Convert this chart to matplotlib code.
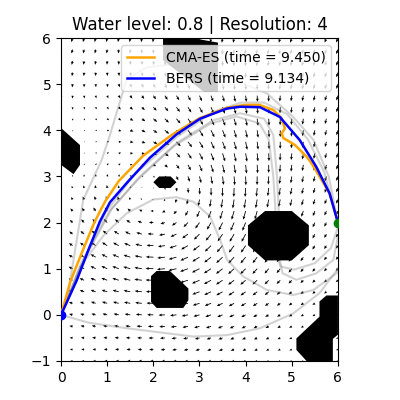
import numpy as np
import matplotlib
matplotlib.use("Agg")
import matplotlib.pyplot as plt
from matplotlib.patches import Polygon

# ---------------- data ----------------
title = "Water level: 0.8 | Resolution: 4"
x_ticks = [0, 1, 2, 3, 4, 5, 6]
y_ticks = [-1, 0, 1, 2, 3, 4, 5, 6]

start_pt = [0.0, 0.0]
goal_pt = [6.0, 2.0]

cma_label = "CMA-ES (time = 9.450)"
cma_x = [0.0, 0.2, 0.48, 0.72, 0.95, 1.25, 1.78, 2.43, 3.0, 3.6, 4.0, 4.3, 4.6, 4.78, 4.85, 4.78, 4.82, 5.07, 5.32, 5.43, 5.6, 5.82, 6.0]
cma_y = [0.0, 0.72, 1.42, 2.0, 2.45, 2.9, 3.45, 3.92, 4.26, 4.49, 4.55, 4.55, 4.44, 4.26, 4.04, 3.93, 3.83, 3.68, 3.43, 3.28, 3.0, 2.63, 2.0]

bers_label = "BERS (time = 9.134)"
bers_x = [0.0, 0.34, 0.59, 0.84, 1.06, 1.46, 1.93, 2.5, 3.01, 3.59, 3.88, 4.31, 4.74, 5.17, 5.53, 5.82, 6.0]
bers_y = [0.0, 0.75, 1.4, 2.02, 2.44, 2.9, 3.41, 3.91, 4.25, 4.47, 4.51, 4.5, 4.29, 3.79, 3.21, 2.63, 2.0]

# explored (gray) trajectories
gray_paths = [
    # outer arc
    ([0.0, 0.13, 0.48, 0.88, 1.06, 1.42, 1.85, 2.29, 3.01, 3.59, 4.46, 5.03, 5.47, 5.8, 6.0],
     [0.0, 0.32, 2.49, 3.36, 3.9, 5.1, 5.36, 5.42, 5.36, 5.16, 4.8, 4.29, 3.79, 3.0, 2.0]),
    # hugging the optimum on the outside
    ([0.0, 0.45, 0.95, 1.6, 2.5, 3.3, 3.9, 4.4, 4.9, 5.35, 5.7, 6.0],
     [0.0, 1.1, 2.2, 3.05, 3.85, 4.4, 4.6, 4.6, 4.35, 3.8, 3.1, 2.0]),
    # near optimum, dropping through the big obstacle
    ([0.0, 0.5, 1.1, 1.71, 2.5, 3.3, 3.88, 4.4, 4.6, 4.68, 4.72, 4.74, 4.8, 5.1, 5.53, 5.9, 6.0],
     [0.0, 1.2, 2.3, 3.0, 3.72, 4.22, 4.37, 4.25, 3.9, 3.0, 2.2, 1.2, 0.9, 0.76, 0.9, 1.19, 1.7]),
    ([0.0, 0.45, 1.05, 1.68, 2.45, 3.25, 3.8, 4.3, 4.5, 4.6, 4.65, 4.68, 4.75, 5.05, 5.5, 5.85, 6.0],
     [0.0, 1.15, 2.25, 2.95, 3.66, 4.15, 4.3, 4.15, 3.8, 3.0, 2.2, 1.3, 1.05, 0.98, 1.12, 1.45, 1.9]),
    # through the vortex
    ([0.0, 0.41, 0.92, 1.42, 2.0, 2.5, 2.87, 3.23, 3.45, 3.6, 3.95, 4.46, 5.03, 5.47, 5.97, 6.0],
     [0.0, 1.04, 1.72, 2.2, 2.5, 2.55, 2.45, 2.13, 1.62, 1.19, 0.83, 0.54, 0.43, 0.54, 0.9, 1.0]),
    # along the bottom
    ([0.0, 0.6, 1.42, 2.87, 3.59, 4.31, 5.03, 5.6, 6.0],
     [0.0, -0.17, -0.29, -0.47, -0.44, -0.29, 0.03, 0.47, 1.0]),
]

# obstacles (land above water level), vertices
obstacles = [
    [(2.21, 6.0), (2.84, 6.0), (3.4, 5.9), (3.4, 4.83), (3.1, 4.83), (2.21, 5.52)],
    [(0.0, 4.05), (0.41, 3.68), (0.41, 3.25), (0.27, 3.05), (0.0, 3.25)],
    [(2.0, 2.875), (2.125, 3.0), (2.375, 3.0), (2.5, 2.875), (2.375, 2.75), (2.125, 2.75)],
    [(4.42, 2.25), (5.0, 2.25), (5.37, 1.94), (5.37, 1.51), (5.0, 1.18), (4.42, 1.18), (4.05, 1.51), (4.05, 1.94)],
    [(2.07, 0.95), (2.36, 0.95), (2.76, 0.57), (2.76, 0.32), (2.65, 0.15), (2.07, 0.15), (1.95, 0.28), (1.95, 0.84)],
    [(5.75, 0.42), (6.0, 0.42), (6.0, -0.43), (5.89, -0.52), (5.89, -1.0), (5.32, -1.0), (5.1, -0.76), (5.1, -0.51), (5.6, -0.04), (5.6, 0.29)],
]

# current field parameters (estimated from the arrow pattern)
grid_step = 0.25
vortex_center = [2.4, 2.4]
vortex_gain = 0.22
vortex_radius = 1.5
drift_u = -0.06
drift_v = -0.12
arrow_scale = 1.5

# ---------------- figure ----------------
fig = plt.figure(figsize=(4, 4), dpi=100)
ax = fig.add_axes([0.1525, 0.0975, 0.6925, 0.8075])

gx = np.arange(0, 6 + 1e-9, grid_step)
gy = np.arange(-1, 6 + 1e-9, grid_step)
X, Y = np.meshgrid(gx, gy)
dx = X - vortex_center[0]
dy = Y - vortex_center[1]
env = np.exp(-(dx ** 2 + dy ** 2) / (2 * vortex_radius ** 2))
vscale = np.clip((Y + 0.5) / 4.0, 0.15, 1.2)
U = vortex_gain * dy * env + drift_u
V = -vortex_gain * dx * env + drift_v * vscale
ax.quiver(X, Y, U, V, angles='xy', scale_units='xy', scale=arrow_scale,
          width=0.003, headwidth=3.5, headlength=4, headaxislength=3.5,
          color='black', zorder=1)

for px, py in gray_paths:
    ax.plot(px, py, color='gray', alpha=0.35, lw=1.5, zorder=2)

for verts in obstacles:
    ax.add_patch(Polygon(verts, closed=True, facecolor='black', edgecolor='none', zorder=3))

ax.plot(cma_x, cma_y, color='orange', lw=1.8, label=cma_label, zorder=4)
ax.plot(bers_x, bers_y, color='blue', lw=1.8, label=bers_label, zorder=5)
ax.plot(start_pt[0], start_pt[1], 'o', color='blue', ms=6, zorder=6)
ax.plot(goal_pt[0], goal_pt[1], 'o', color='green', ms=6, zorder=6)

ax.set_xlim(0, 6)
ax.set_ylim(-1, 6)
ax.set_aspect('equal')
ax.set_xticks(x_ticks)
ax.set_yticks(y_ticks)
ax.set_title(title)
ax.legend(loc='upper right')

fig.savefig("out.png", dpi=100)
